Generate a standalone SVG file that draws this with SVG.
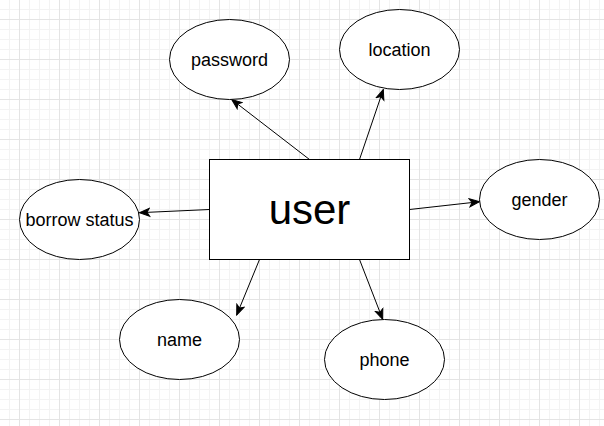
<svg xmlns="http://www.w3.org/2000/svg" width="604" height="426" viewBox="0 0 604 426">
  <defs>
    <pattern id="grid" patternUnits="userSpaceOnUse" x="0" y="0" width="40" height="40">
      <path d="M9.5,0 V40 M29.5,0 V40 M39.5,0 V40 M0,9.5 H40 M0,29.5 H40 M0,39.5 H40" stroke="#f3f3f3" stroke-width="1" fill="none"/>
      <path d="M19.5,0 V40 M0,19.5 H40" stroke="#e4e4e4" stroke-width="1" fill="none"/>
    </pattern>
    <marker id="arrow" markerUnits="userSpaceOnUse" markerWidth="12" markerHeight="12" viewBox="0 0 12 12" refX="11" refY="6" orient="auto">
      <path d="M1,2 L11,6 L1,10 L3.5,6 Z" fill="#000" stroke="#000" stroke-width="1"/>
    </marker>
    <style>
      .node ellipse, .node rect { fill: #ffffff; stroke: #000000; stroke-width: 1; }
      .label { font-family: "Liberation Sans", Arial, sans-serif; font-size: 18px; fill: #000000; text-anchor: middle; }
      .title { font-family: "Liberation Sans", Arial, sans-serif; font-size: 42px; fill: #000000; text-anchor: middle; }
      .edge { stroke: #000000; stroke-width: 1; fill: none; marker-end: url(#arrow); }
    </style>
  </defs>
  <rect x="0" y="0" width="604" height="426" fill="#ffffff"/>
  <rect x="0" y="0" width="604" height="426" fill="url(#grid)"/>

  <g id="connectors">
    <line class="edge" x1="309.5" y1="159.5" x2="231.7" y2="99.5"/>
    <line class="edge" x1="359.5" y1="159.5" x2="383.3" y2="89.5"/>
    <line class="edge" x1="209.5" y1="209.5" x2="139.5" y2="212.7"/>
    <line class="edge" x1="409.5" y1="209.5" x2="479.5" y2="201.7"/>
    <line class="edge" x1="259.5" y1="259.5" x2="236.7" y2="315"/>
    <line class="edge" x1="359.5" y1="259.5" x2="382.7" y2="319.3"/>
  </g>

  <g id="user" class="node">
    <rect x="209.5" y="159.5" width="200" height="100"/>
    <text class="title" x="309.5" y="224">user</text>
  </g>
  <g id="password" class="node">
    <ellipse cx="229.5" cy="59.5" rx="60" ry="40"/>
    <text class="label" x="229.5" y="66">password</text>
  </g>
  <g id="location" class="node">
    <ellipse cx="399.5" cy="49.5" rx="60" ry="40"/>
    <text class="label" x="399.5" y="56">location</text>
  </g>
  <g id="borrow-status" class="node">
    <ellipse cx="79.5" cy="219.5" rx="60" ry="40"/>
    <text class="label" x="79.5" y="226">borrow status</text>
  </g>
  <g id="gender" class="node">
    <ellipse cx="539.5" cy="199.5" rx="60" ry="40"/>
    <text class="label" x="539.5" y="206">gender</text>
  </g>
  <g id="name" class="node">
    <ellipse cx="179.5" cy="339.5" rx="60" ry="40"/>
    <text class="label" x="179.5" y="346">name</text>
  </g>
  <g id="phone" class="node">
    <ellipse cx="384.5" cy="359.5" rx="60" ry="40"/>
    <text class="label" x="384.5" y="366">phone</text>
  </g>
</svg>
